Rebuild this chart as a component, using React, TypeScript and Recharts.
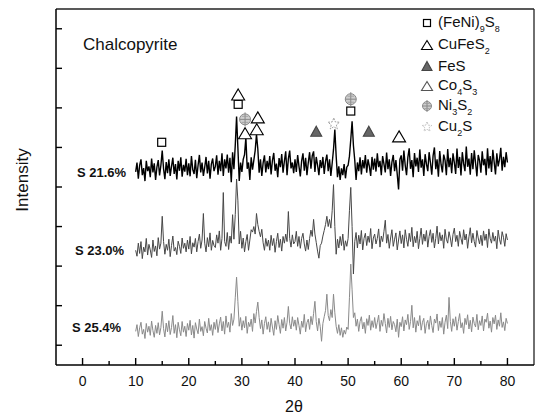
import React from 'react';
import { ComposedChart, Line, Scatter, XAxis, YAxis, ReferenceLine } from 'recharts';

// XRD scans, 10-80 deg 2theta, sampled every 0.25 deg (arbitrary intensity units)
const START_ANGLE = 10;
const STEP = 0.25;

const s216 = [
  438, 462, 421, 455, 470, 430, 448, 415, 466, 440, 452, 425, 472, 437, 460, 418, 450, 468, 429, 455,
  492, 446, 420, 463, 435, 470, 428, 452, 474, 433, 458, 419, 466, 441, 475, 426, 456, 439, 471, 430,
  460, 427, 478, 444, 433, 469, 422, 455, 481, 437, 462, 428, 450, 476, 434, 466, 421, 458, 472, 440,
  452, 480, 431, 466, 440, 485, 428, 470, 447, 482, 436, 474, 412, 488, 445, 505, 578, 498, 415, 462,
  438, 470, 482, 525, 446, 462, 418, 475, 444, 468, 492, 533, 496, 436, 470, 428, 461, 480, 437, 466,
  445, 478, 432, 467, 486, 441, 459, 425, 473, 450, 483, 436, 465, 490, 430, 471, 492, 447, 462, 435,
  470, 438, 481, 452, 427, 466, 485, 441, 474, 430, 462, 488, 446, 479, 490, 438, 476, 455, 430, 468,
  448, 476, 433, 465, 482, 440, 470, 428, 460, 495, 545, 478, 425, 452, 418, 447, 430, 458, 422, 450,
  455, 478, 520, 566, 505, 468, 418, 462, 440, 475, 432, 468, 447, 481, 436, 470, 452, 428, 476, 444,
  472, 439, 485, 450, 466, 430, 478, 458, 437, 487, 445, 470, 428, 463, 481, 440, 468, 432, 394, 470,
  480, 441, 492, 455, 430, 475, 498, 446, 468, 425, 486, 452, 474, 438, 495, 449, 470, 428, 483, 458,
  440, 488, 462, 431, 479, 500, 445, 470, 426, 491, 457, 437, 482, 468, 430, 496, 450, 474, 435, 485,
  462, 433, 497, 448, 476, 429, 488, 459, 440, 502, 451, 472, 431, 486, 445, 493, 460, 427, 481, 467,
  436, 490, 455, 471, 430, 498, 447, 478, 438, 494, 463, 432, 485, 452, 470, 499, 441, 476, 450, 488,
  462,
];

const s230 = [
  240, 225, 258, 232, 262, 219, 248, 236, 270, 228, 255, 241, 222, 266, 237, 251, 226, 272, 243, 258,
  326, 262, 230, 255, 240, 268, 224, 252, 276, 238, 247, 229, 263, 250, 232, 271, 245, 258, 236, 266,
  243, 275, 231, 259, 248, 270, 236, 262, 281, 245, 266, 333, 258, 236, 272, 249, 284, 240, 265, 252,
  247, 279, 258, 289, 240, 270, 386, 262, 250, 285, 242, 276, 258, 330, 268, 330, 420, 365, 256, 288,
  245, 271, 236, 262, 280, 240, 266, 292, 286, 300, 281, 333, 305, 288, 274, 293, 259, 240, 270, 250,
  266, 240, 278, 252, 270, 235, 262, 283, 247, 268, 238, 275, 258, 281, 262, 338, 270, 248, 279, 256,
  262, 288, 250, 275, 245, 270, 283, 256, 238, 266, 242, 270, 291, 275, 318, 281, 260, 238, 220, 252,
  258, 276, 290, 305, 326, 300, 318, 296, 340, 406, 300, 230, 268, 246, 275, 252, 281, 240, 264, 250,
  270, 340, 399, 300, 180, 262, 285, 246, 278, 256, 290, 241, 270, 283, 252, 276, 260, 295, 244, 271,
  281, 256, 270, 294, 248, 276, 262, 288, 316, 258, 280, 245, 271, 292, 250, 268, 284, 241, 266, 289,
  257, 279, 246, 292, 268, 250, 283, 262, 298, 249, 275, 259, 288, 244, 270, 296, 255, 281, 263, 290,
  248, 275, 292, 260, 283, 246, 270, 301, 256, 285, 264, 279, 245, 293, 268, 258, 287, 271, 249, 280,
  296, 262, 278, 250, 288, 270, 255, 292, 266, 281, 245, 274, 297, 259, 283, 262, 248, 290, 271, 256,
  278, 252, 289, 265, 281, 247, 294, 270, 258, 285, 263, 276, 244, 291, 268, 255, 287, 273, 250, 282,
  266,
];

const s254 = [
  35, 52, 22, 44, 58, 28, 40, 17, 55, 33, 48, 25, 61, 37, 20, 50, 30, 57, 26, 45,
  86, 42, 21, 56, 34, 62, 27, 45, 75, 30, 52, 19, 58, 39, 24, 60, 33, 48, 22, 55,
  38, 63, 26, 50, 18, 57, 41, 29, 66, 35, 47, 24, 60, 43, 31, 68, 37, 52, 25, 58,
  40, 65, 32, 54, 71, 36, 60, 28, 74, 45, 58, 33, 80, 50, 66, 120, 172, 110, 48, 70,
  38, 62, 44, 73, 30, 58, 47, 66, 35, 80, 56, 85, 109, 70, 42, 64, 28, 55, 72, 40,
  59, 33, 68, 46, 25, 62, 40, 75, 52, 30, 65, 43, 70, 36, 58, 98, 55, 41, 72, 48,
  64, 38, 70, 50, 28, 61, 45, 78, 34, 57, 66, 40, 73, 52, 80, 111, 60, 36, 68, 47,
  10, 55, 72, 88, 129, 75, 62, 90, 70, 129, 82, 48, 30, 52, 25, 44, 20, 38, 28, 46,
  40, 120, 205, 140, 70, 82, 48, 66, 35, 60, 72, 41, 58, 30, 67, 50, 76, 38, 62, 45,
  70, 42, 58, 76, 35, 63, 48, 80, 55, 31, 68, 45, 73, 39, 60, 52, 34, 66, 20, 58,
  47, 72, 36, 64, 52, 78, 40, 60, 101, 44, 70, 33, 62, 49, 75, 38, 58, 68, 30, 55,
  63, 40, 74, 50, 32, 66, 56, 79, 37, 61, 45, 70, 28, 58, 76, 42, 121, 60, 35, 67,
  48, 72, 38, 60, 80, 44, 57, 30, 68, 52, 77, 41, 63, 34, 71, 55, 46, 78, 39, 62,
  50, 74, 36, 66, 58, 81, 43, 61, 33, 70, 54, 76, 40, 64, 48, 82, 45, 59, 37, 68,
  55,
];

const xTicks = [0, 5, 10, 15, 20, 25, 30, 35, 40, 45, 50, 55, 60, 65, 70, 75, 80];
const yTicks = [0, 100, 200, 300, 400, 500, 600, 700, 800];

// phase markers (2theta, height)
const feniMarks = [{ x: 14.9, y: 513 }, { x: 29.3, y: 609 }, { x: 50.5, y: 592 }];
const cufeMarks = [{ x: 29.3, y: 634 }, { x: 30.6, y: 536 }, { x: 32.8, y: 546 }];
const fesMarks = [{ x: 44.0, y: 541 }, { x: 53.9, y: 541 }];
const coMarks = [{ x: 33.0, y: 576 }, { x: 59.6, y: 528 }];
const niMarks = [{ x: 30.6, y: 571 }, { x: 50.5, y: 622 }];
const cuMarks = [{ x: 47.3, y: 559 }];

const rows = s216.map((v, i) => ({
  x: START_ANGLE + i * STEP,
  a: v,
  b: s230[i],
  c: s254[i],
}));

const FONT = '"Liberation Sans", Arial, sans-serif';

const Square = ({ cx, cy, size = 8, stroke = '#000' }: any) => (
  <rect x={cx - size / 2} y={cy - size / 2} width={size} height={size} fill="#fff" stroke={stroke} strokeWidth={1.2} />
);

const Triangle = ({ cx, cy, w = 13, h = 11, fill = '#fff', stroke = '#000' }: any) => (
  <polygon
    points={`${cx},${cy - h / 2} ${cx + w / 2},${cy + h / 2} ${cx - w / 2},${cy + h / 2}`}
    fill={fill}
    stroke={stroke}
    strokeWidth={1.1}
  />
);

const NiBall = ({ cx, cy, r = 5.5 }: any) => (
  <g>
    <circle cx={cx} cy={cy} r={r} fill="#cfcfcf" stroke="#8a8a8a" strokeWidth={1} />
    <line x1={cx - r} x2={cx + r} y1={cy} y2={cy} stroke="#888" />
    <line x1={cx} x2={cx} y1={cy - r - 1.5} y2={cy + r + 1.5} stroke="#888" />
    <line x1={cx - r * 0.6} x2={cx + r * 0.6} y1={cy - r * 0.55} y2={cy - r * 0.55} stroke="#999" strokeWidth={0.8} />
    <line x1={cx - r * 0.6} x2={cx + r * 0.6} y1={cy + r * 0.55} y2={cy + r * 0.55} stroke="#999" strokeWidth={0.8} />
  </g>
);

const Star = ({ cx, cy, r = 6, stroke = '#999' }: any) => {
  const pts: string[] = [];
  for (let k = 0; k < 10; k++) {
    const rad = k % 2 === 0 ? r : r * 0.45;
    const ang = -Math.PI / 2 + (k * Math.PI) / 5;
    pts.push(`${cx + rad * Math.cos(ang)},${cy + rad * Math.sin(ang)}`);
  }
  return <polygon points={pts.join(' ')} fill="none" stroke={stroke} strokeWidth={0.9} strokeDasharray="2 1" />;
};

const XTick = ({ x, y, payload }: any) => {
  const major = payload.value % 10 === 0;
  return (
    <g>
      <line x1={x} x2={x} y1={y} y2={y - (major ? 7 : 4)} stroke="#000" strokeWidth={1.4} />
      {major && (
        <text x={x} y={y + 16} textAnchor="middle" dominantBaseline="central" fontSize={14} fontFamily={FONT} fill="#111">
          {payload.value}
        </text>
      )}
    </g>
  );
};

const YTick = ({ x, y }: any) => <line x1={x} x2={x + 6} y1={y} y2={y} stroke="#000" strokeWidth={1.4} />;

const sub = (t: string) => (
  <span style={{ fontSize: 9, position: 'relative', top: 5 }}>{t}</span>
);

const legendItems = [
  { y: 23, icon: <Square cx={7} cy={7} size={7} />, label: <>(FeNi){sub('9')}S{sub('8')}</> },
  { y: 45, icon: <Triangle cx={7} cy={7} w={11} h={9} />, label: <>CuFeS{sub('2')}</> },
  { y: 66, icon: <Triangle cx={7} cy={7} w={10} h={9} fill="#666" stroke="#444" />, label: <>FeS</> },
  { y: 86, icon: <Triangle cx={7} cy={7} w={11} h={9} stroke="#555" />, label: <>Co{sub('4')}S{sub('3')}</> },
  { y: 106, icon: <NiBall cx={7} cy={7} r={4.5} />, label: <>Ni{sub('3')}S{sub('2')}</> },
  { y: 127, icon: <Star cx={7} cy={7} r={5} stroke="#bbb" />, label: <>Cu{sub('2')}S</> },
];

const seriesLabels = [
  { text: 'S 21.6%', left: 77, top: 172 },
  { text: 'S 23.0%', left: 75, top: 250 },
  { text: 'S 25.4%', left: 72, top: 327 },
];

export default function App() {
  return (
    <div style={{ position: 'absolute', left: 0, top: 0, width: 536, height: 416, background: '#fff', fontFamily: FONT }}>
      <ComposedChart width={536} height={416} data={rows} margin={{ top: 9, right: 2, left: 0, bottom: 0 }}>
        <XAxis
          dataKey="x"
          type="number"
          domain={[-5, 85]}
          ticks={xTicks}
          allowDataOverflow
          height={51}
          tickSize={0}
          tickMargin={0}
          tickLine={false}
          tick={<XTick />}
          axisLine={{ stroke: '#000', strokeWidth: 1.5 }}
          interval={0}
        />
        <YAxis
          type="number"
          domain={[-50, 850]}
          ticks={yTicks}
          allowDataOverflow
          width={56}
          tickSize={0}
          tickMargin={0}
          tickLine={false}
          tick={<YTick />}
          axisLine={{ stroke: '#000', strokeWidth: 1.5 }}
          interval={0}
        />
        <ReferenceLine y={850} stroke="#222" strokeWidth={1.3} />
        <ReferenceLine x={85} stroke="#222" strokeWidth={1.3} />
        <Line dataKey="c" stroke="#8a8a8a" strokeWidth={1} dot={false} isAnimationActive={false} />
        <Line dataKey="b" stroke="#474747" strokeWidth={1} dot={false} isAnimationActive={false} />
        <Line dataKey="a" stroke="#000" strokeWidth={1.4} dot={false} isAnimationActive={false} />
        <Scatter data={feniMarks} dataKey="y" isAnimationActive={false} shape={(p: any) => <Square cx={p.cx} cy={p.cy} />} />
        <Scatter data={cufeMarks} dataKey="y" isAnimationActive={false} shape={(p: any) => <Triangle cx={p.cx} cy={p.cy} />} />
        <Scatter data={coMarks} dataKey="y" isAnimationActive={false} shape={(p: any) => <Triangle cx={p.cx} cy={p.cy} />} />
        <Scatter
          data={fesMarks}
          dataKey="y"
          isAnimationActive={false}
          shape={(p: any) => <Triangle cx={p.cx} cy={p.cy} w={11} h={10} fill="#666" stroke="#444" />}
        />
        <Scatter data={niMarks} dataKey="y" isAnimationActive={false} shape={(p: any) => <NiBall cx={p.cx} cy={p.cy} />} />
        <Scatter data={cuMarks} dataKey="y" isAnimationActive={false} shape={(p: any) => <Star cx={p.cx} cy={p.cy} />} />
      </ComposedChart>

      <div style={{ position: 'absolute', left: 83, top: 45, transform: 'translateY(-50%)', fontSize: 17, color: '#111' }}>
        Chalcopyrite
      </div>

      {seriesLabels.map((s) => (
        <div
          key={s.text}
          style={{ position: 'absolute', left: s.left, top: s.top, transform: 'translateY(-50%)', fontSize: 13, fontWeight: 'bold', color: '#111' }}
        >
          {s.text}
        </div>
      ))}

      {legendItems.map((it, i) => (
        <div key={i} style={{ position: 'absolute', left: 420, top: it.y, transform: 'translateY(-50%)', display: 'flex', alignItems: 'center' }}>
          <svg width={14} height={14}>{it.icon}</svg>
          <span style={{ marginLeft: 4, fontSize: 15, color: '#111', lineHeight: '16px' }}>{it.label}</span>
        </div>
      ))}

      <div
        style={{
          position: 'absolute',
          left: 23,
          top: 180,
          transform: 'translate(-50%, -50%) rotate(-90deg)',
          fontSize: 17,
          color: '#111',
          whiteSpace: 'nowrap',
        }}
      >
        Intensity
      </div>

      <div style={{ position: 'absolute', left: 294, top: 407, transform: 'translate(-50%, -50%)', fontSize: 16, color: '#111' }}>
        2θ
      </div>
    </div>
  );
}
